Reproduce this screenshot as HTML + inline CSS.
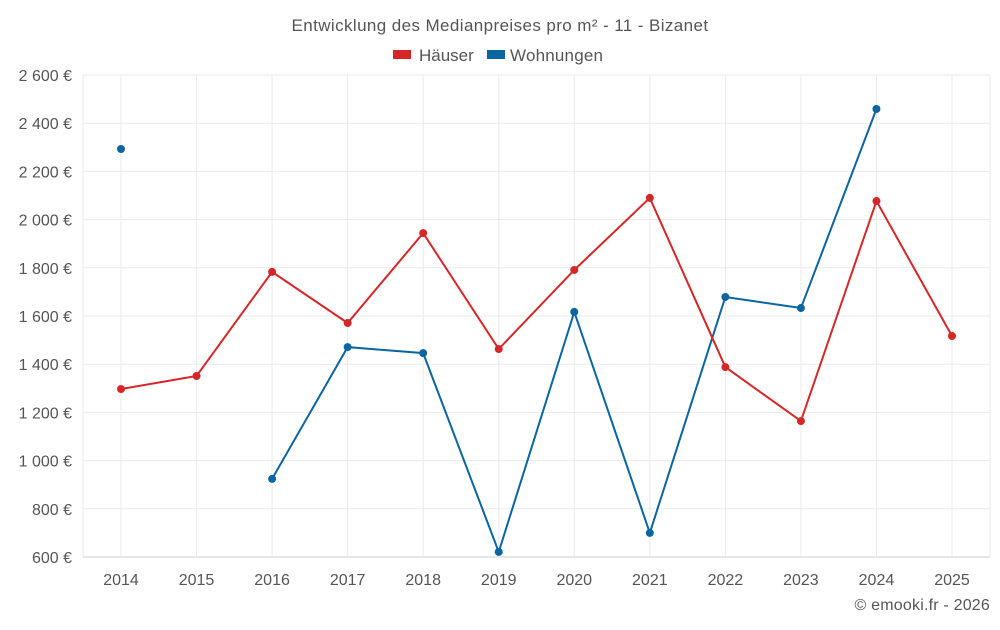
<!DOCTYPE html>
<html><head><meta charset="utf-8"><style>
body{margin:0;background:#fff;font-family:"Liberation Sans",sans-serif;}
svg text{font-family:"Liberation Sans",sans-serif;fill:#555;}
</style></head><body>
<svg id="c" width="1000" height="625">
<text x="500" y="31" text-anchor="middle" font-size="17" letter-spacing="0.4">Entwicklung des Medianpreises pro m² - 11 - Bizanet</text>
<g>
<rect x="393" y="50" width="18" height="9" fill="#d62728"/>
<text x="419" y="61" font-size="17">Häuser</text>
<rect x="487" y="50" width="18" height="9" fill="#0a65a0"/>
<text x="510" y="61" font-size="17" letter-spacing="0.2">Wohnungen</text>
</g>
<g id="grid"></g><g id="axes"></g><g id="series"></g>
<text x="990" y="610" text-anchor="end" font-size="16" letter-spacing="0.2">© emooki.fr - 2026</text>
</svg>
<script>
const years=[2014,2015,2016,2017,2018,2019,2020,2021,2022,2023,2024,2025];
const haeuser=[1297,1351,1783,1571,1944,1463,1791,2090,1388,1164,2077,1517];
const wohnungen=[2293,null,924,1471,1446,621,1617,700,1679,1633,2459,null];
const yTicks=[600,800,1000,1200,1400,1600,1800,2000,2200,2400,2600];
const L=83,R=990,T=75,B=557,ymin=600,ymax=2600;
const NS="http://www.w3.org/2000/svg";
const xs=i=>121+i*(952-121)/(years.length-1);
const ys=v=>B-(v-ymin)/(ymax-ymin)*(B-T);
function mk(tag,attrs,parent){const e=document.createElementNS(NS,tag);for(const k in attrs)e.setAttribute(k,attrs[k]);parent.appendChild(e);return e;}
const grid=document.getElementById('grid'),axes=document.getElementById('axes'),ser=document.getElementById('series');
const fmt=v=>String(v).replace(/\B(?=(\d{3})+(?!\d))/g,' ')+' €';
yTicks.forEach(v=>{
 const l=mk('line',{x1:L,x2:R,y1:ys(v),y2:ys(v),stroke:v===ymin?'#ccc':'#ebebeb'},grid);
 
 
 const t=mk('text',{x:72,y:ys(v)+6,'text-anchor':'end','font-size':'16'},axes);t.textContent=fmt(v);
 
 
});
[L,R].forEach(x=>{const l=mk('line',{x1:x,x2:x,y1:T,y2:B,stroke:'#ebebeb'},grid);
 
 });
years.forEach((y,i)=>{
 const l=mk('line',{x1:xs(i),x2:xs(i),y1:T,y2:B,stroke:'#ebebeb'},grid);
 
 
 const t=mk('text',{x:xs(i),y:585,'text-anchor':'middle','font-size':'16'},axes);t.textContent=y;
 
 
});
function draw(data,color,name){
 let d='',pen=false;
 data.forEach((v,i)=>{if(v==null){pen=false;return;}d+=(pen?'L':'M')+xs(i)+','+ys(v);pen=true;});
 const p=mk('path',{d:d,fill:'none',stroke:color,'stroke-width':2},ser);
 
 
 data.forEach((v,i)=>{if(v==null)return;
  const c=mk('circle',{cx:xs(i),cy:ys(v),r:4,fill:color},ser);
  
  });
}
draw(wohnungen,'#0a65a0','wohnungen');
draw(haeuser,'#d62728','haeuser');
</script>
</body></html>
